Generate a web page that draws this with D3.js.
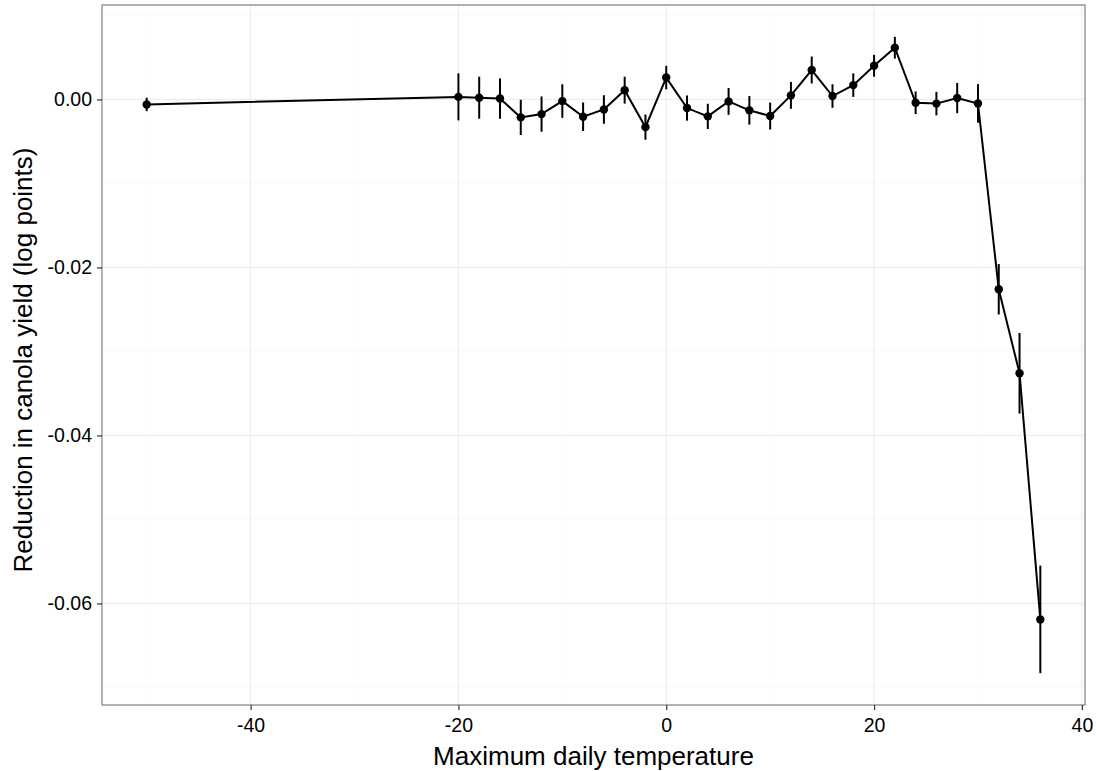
<!DOCTYPE html>
<html>
<head>
<meta charset="utf-8">
<script src="https://cdn.jsdelivr.net/npm/d3@7"></script>
<style>
  body { margin: 0; background: #fff; }
  text { font-family: "Liberation Sans", Arial, sans-serif; }
</style>
</head>
<body>
<div id="canvas"></div>
<script>
// temperature bins, estimated coefficients and half-width of the error bars
var temps = [-50, -20, -18, -16, -14, -12, -10, -8, -6, -4, -2, 0, 2, 4, 6, 8, 10,
             12, 14, 16, 18, 20, 22, 24, 26, 28, 30, 32, 34, 36];
var coefs = [-0.0006, 0.0003, 0.0002, 0.0001, -0.00214, -0.00175, -0.0002, -0.00206,
             -0.0012, 0.0011, -0.0033, 0.0026, -0.00103, -0.00202, -0.00024, -0.0013,
             -0.00198, 0.00048, 0.0035, 0.0004, 0.0017, 0.004, 0.00615, -0.0004,
             -0.0005, 0.00016, -0.00048, -0.0226, -0.0326, -0.0619];
var errs = [0.0008, 0.0028, 0.0025, 0.0024, 0.0021, 0.0021, 0.002, 0.0017,
            0.0017, 0.0016, 0.0015, 0.0014, 0.0015, 0.0015, 0.0016, 0.0017,
            0.0016, 0.0016, 0.0016, 0.0014, 0.0014, 0.0013, 0.0013, 0.00135,
            0.0014, 0.0018, 0.0023, 0.003, 0.0048, 0.0064];
var xTicks = [-40, -20, 0, 20, 40];
var xMinor = [-50, -30, -10, 10, 30];
var yTicks = [0, -0.02, -0.04, -0.06];
var yMinor = [0.01, -0.01, -0.03, -0.05, -0.07];

var data = temps.map(function(t, i) {
  return {x: t, y: coefs[i], lo: coefs[i] - errs[i], hi: coefs[i] + errs[i]};
});

var W = 1096, H = 771;
var m = {t: 5, r: 11, b: 66, l: 102},
    w = W - m.l - m.r,
    h = H - m.t - m.b;

var svg = d3.select('#canvas').append('svg')
    .attr('width', W).attr('height', H);
var plot = svg.append('g')
    .attr('transform', 'translate(' + m.l + ',' + m.t + ')');

// ggplot-like 5% expansion
var xr = d3.extent(temps), xpad = (xr[1] - xr[0]) * 0.05;
var ylo = d3.min(data, function(d) { return d.lo; }),
    yhi = d3.max(data, function(d) { return d.hi; }),
    ypad = (yhi - ylo) * 0.05;

var x = d3.scaleLinear().domain([xr[0] - xpad, xr[1] + xpad]).range([0, w]);
var y = d3.scaleLinear().domain([ylo - ypad, yhi + ypad]).range([h, 0]);

// grid
plot.selectAll('.xminor').data(xMinor).enter().append('line')
  .attr('x1', x).attr('x2', x).attr('y1', 0).attr('y2', h)
  .style('stroke', '#fafafa').style('stroke-width', 1);
plot.selectAll('.yminor').data(yMinor).enter().append('line')
  .attr('y1', y).attr('y2', y).attr('x1', 0).attr('x2', w)
  .style('stroke', '#fafafa').style('stroke-width', 1);
plot.selectAll('.xmajor').data(xTicks).enter().append('line')
  .attr('x1', x).attr('x2', x).attr('y1', 0).attr('y2', h)
  .style('stroke', '#ebebeb').style('stroke-width', 1);
plot.selectAll('.ymajor').data(yTicks).enter().append('line')
  .attr('y1', y).attr('y2', y).attr('x1', 0).attr('x2', w)
  .style('stroke', '#ebebeb').style('stroke-width', 1);

// error bars
plot.selectAll('.err').data(data).enter().append('line')
  .attr('x1', function(d) { return x(d.x); })
  .attr('x2', function(d) { return x(d.x); })
  .attr('y1', function(d) { return y(d.lo); })
  .attr('y2', function(d) { return y(d.hi); })
  .style('stroke', '#000').style('stroke-width', 2);

// line
var line = d3.line().x(function(d) { return x(d.x); }).y(function(d) { return y(d.y); });
plot.append('path').datum(data)
  .attr('d', line)
  .style('fill', 'none').style('stroke', '#000').style('stroke-width', 2);

// points
plot.selectAll('.pt').data(data).enter().append('circle')
  .attr('cx', function(d) { return x(d.x); })
  .attr('cy', function(d) { return y(d.y); })
  .attr('r', 4.2)
  .style('fill', '#000');

// panel border
plot.append('rect')
  .attr('x', 0).attr('y', 0).attr('width', w).attr('height', h)
  .style('fill', 'none').style('stroke', '#7f7f7f').style('stroke-width', 1.2);

// axes
var xAxis = plot.append('g').attr('transform', 'translate(0,' + h + ')')
  .call(d3.axisBottom(x).tickValues(xTicks).tickSize(5).tickPadding(8)
    .tickFormat(function(d) { return d; }));
var yAxis = plot.append('g')
  .call(d3.axisLeft(y).tickValues(yTicks).tickSize(5).tickPadding(5)
    .tickFormat(function(d) { return d3.format('.2f')(d).replace('−', '-'); }));
[xAxis, yAxis].forEach(function(a) {
  a.select('.domain').remove();
  a.selectAll('.tick line').style('stroke', '#333').style('stroke-width', 1.2);
  a.selectAll('.tick text').style('font-size', '19.5px').style('fill', '#000')
    .style('font-family', '"Liberation Sans", Arial, sans-serif');
});

// titles
svg.append('text')
  .attr('x', m.l + w / 2).attr('y', 765)
  .attr('text-anchor', 'middle')
  .style('font-size', '26px')
  .text('Maximum daily temperature');
svg.append('text')
  .attr('transform', 'translate(32,' + (m.t + h / 2 + 5) + ') rotate(-90)')
  .attr('text-anchor', 'middle')
  .style('font-size', '26px')
  .text('Reduction in canola yield (log points)');
</script>
</body>
</html>
